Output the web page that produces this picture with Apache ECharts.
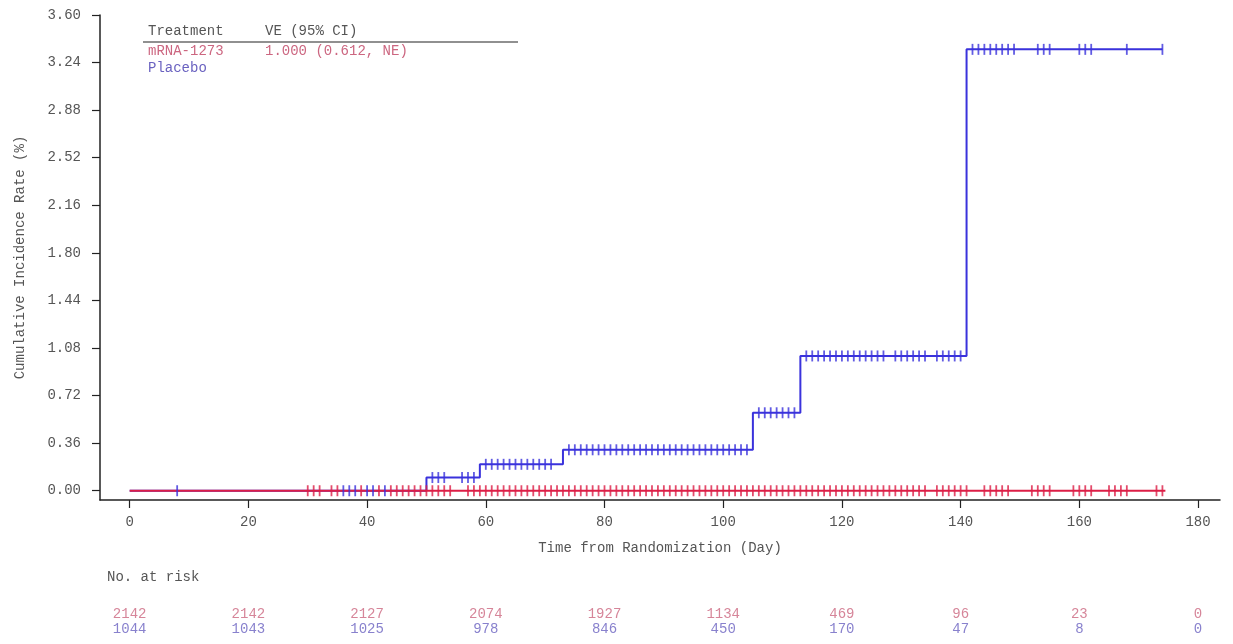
<!DOCTYPE html>
<html>
<head>
<meta charset="utf-8">
<script src="https://cdn.jsdelivr.net/npm/echarts@6/dist/echarts.min.js"></script>
<style>html,body{margin:0;padding:0;background:#fff;}#c{width:1233px;height:644px;}</style>
</head>
<body>
<div id="c"></div>
<script>
// ---- data ----
const yTicks = [0, 0.36, 0.72, 1.08, 1.44, 1.80, 2.16, 2.52, 2.88, 3.24, 3.60];
const xTicks = [0, 20, 40, 60, 80, 100, 120, 140, 160, 180];

const placeboStepDays = [0, 50, 59, 73, 105, 113, 141, 174];
const placeboStepRate = [0, 0.10, 0.20, 0.31, 0.59, 1.02, 3.34, 3.34];
const mrnaStepDays = [0, 174.5];
const mrnaStepRate = [0, 0];

const placeboCensorDays = [8, 36, 37, 38, 40, 41, 43, 51, 52, 53, 56, 57, 58,
  60, 61, 62, 63, 64, 65, 66, 67, 68, 69, 70, 71,
  74, 75, 76, 77, 78, 79, 80, 81, 82, 83, 84, 85, 86, 87, 88, 89, 90, 91, 92, 93, 94, 95, 96, 97, 98, 99, 100, 101, 102, 103, 104,
  106, 107, 108, 109, 110, 111, 112,
  114, 115, 116, 117, 118, 119, 120, 121, 122, 123, 124, 125, 126, 127, 129, 130, 131, 132, 133, 134, 136, 137, 138, 139, 140,
  142, 143, 144, 145, 146, 147, 148, 149, 153, 154, 155, 160, 161, 162, 168, 174];
const mrnaCensorDays = [30, 31, 32, 34, 35, 39, 42,
  44, 45, 46, 47, 48, 49, 50, 51, 52, 53, 54,
  57, 58, 59, 60, 61, 62, 63, 64, 65, 66, 67, 68, 69, 70, 71, 72, 73, 74, 75, 76, 77, 78, 79, 80,
  81, 82, 83, 84, 85, 86, 87, 88, 89, 90, 91, 92, 93, 94, 95, 96, 97, 98, 99, 100,
  101, 102, 103, 104, 105, 106, 107, 108, 109, 110, 111, 112, 113, 114, 115, 116, 117, 118, 119, 120,
  121, 122, 123, 124, 125, 126, 127, 128, 129, 130, 131, 132, 133, 134,
  136, 137, 138, 139, 140, 141, 144, 145, 146, 147, 148, 152, 153, 154, 155,
  159, 160, 161, 162, 165, 166, 167, 168, 173, 174];

const riskDays = [0, 20, 40, 60, 80, 100, 120, 140, 160, 180];
const riskMrna = [2142, 2142, 2127, 2074, 1927, 1134, 469, 96, 23, 0];
const riskPlacebo = [1044, 1043, 1025, 978, 846, 450, 170, 47, 8, 0];

const groups = ['mRNA-1273', 'Placebo'];
const veText = ['1.000 (0.612, NE)', ''];

// ---- styles ----
const FONT = "'Liberation Mono', 'Courier New', monospace";
const FS = 14;
const RED = '#dc1e46', BLUE = '#3a32dc';
const RED_T = '#cc6680', BLUE_T = '#6a62c0';
const TXT = '#555';

function stepValue(days, rates, d) {
  let v = rates[0];
  for (let i = 0; i < days.length; i++) { if (days[i] <= d) v = rates[i]; }
  return v;
}
const zip = (a, b) => a.map((v, i) => [v, b[i]]);

const chart = echarts.init(document.getElementById('c'), null, { renderer: 'canvas' });
const option = {
  animation: false,
  backgroundColor: '#fff',
  textStyle: { fontFamily: FONT },
  grid: [
    { left: 100, right: 13, top: 15, bottom: 144 },
    { left: 100, right: 13, top: 599, height: 51, show: false }
  ],
  xAxis: [{
    gridIndex: 0, type: 'value', min: -5, max: 183.7,
    axisLine: { show: true, onZero: false, lineStyle: { color: '#222', width: 1.5 } },
    axisTick: { show: true, length: 8, customValues: xTicks, lineStyle: { color: '#222', width: 1.2 } },
    axisLabel: { customValues: xTicks, margin: 15, fontSize: FS, color: TXT, fontFamily: FONT },
    splitLine: { show: false },
    name: 'Time from Randomization (Day)', nameLocation: 'middle', nameGap: 41,
    nameTextStyle: { fontSize: FS, color: TXT, fontFamily: FONT }
  }, {
    gridIndex: 1, type: 'value', min: -5, max: 183.7, show: false
  }],
  yAxis: [{
    gridIndex: 0, type: 'value', min: -0.07, max: 3.6,
    axisLine: { show: true, onZero: false, lineStyle: { color: '#222', width: 1.5 } },
    axisTick: { show: true, length: 8, customValues: yTicks, lineStyle: { color: '#222', width: 1.2 } },
    axisLabel: { customValues: yTicks, margin: 19, fontSize: FS, color: TXT, fontFamily: FONT,
      formatter: v => v.toFixed(2) },
    splitLine: { show: false },
    name: 'Cumulative Incidence Rate (%)', nameLocation: 'middle', nameGap: 73,
    nameTextStyle: { fontSize: FS, color: TXT, fontFamily: FONT }
  }, {
    gridIndex: 1, type: 'value', min: 0, max: 3, inverse: true, show: false
  }],
  series: [
    {
      name: groups[1], type: 'line', step: 'end', xAxisIndex: 0, yAxisIndex: 0,
      data: zip(placeboStepDays, placeboStepRate), showSymbol: false, symbol: 'none',
      lineStyle: { color: BLUE, width: 2 }, z: 2
    },
    {
      name: groups[0], type: 'line', step: 'end', xAxisIndex: 0, yAxisIndex: 0,
      data: zip(mrnaStepDays, mrnaStepRate), showSymbol: false, symbol: 'none',
      lineStyle: { color: RED, width: 2 }, z: 3
    },
    {
      name: groups[0] + ' censored', type: 'scatter', xAxisIndex: 0, yAxisIndex: 0,
      data: mrnaCensorDays.map(d => [d, stepValue(mrnaStepDays, mrnaStepRate, d)]),
      symbol: 'rect', symbolSize: [1.8, 11], itemStyle: { color: RED }, z: 4
    },
    {
      name: groups[1] + ' censored', type: 'scatter', xAxisIndex: 0, yAxisIndex: 0,
      data: placeboCensorDays.map(d => [d, stepValue(placeboStepDays, placeboStepRate, d)]),
      symbol: 'rect', symbolSize: [1.8, 11], itemStyle: { color: BLUE }, z: 5
    },
    {
      name: 'risk ' + groups[0], type: 'scatter', xAxisIndex: 1, yAxisIndex: 1,
      data: riskDays.map((d, i) => [d, 1, riskMrna[i]]), symbolSize: 0.001, silent: true,
      label: { show: true, position: 'inside', formatter: p => String(p.value[2]),
        color: RED_T, fontSize: FS, fontFamily: FONT }
    },
    {
      name: 'risk ' + groups[1], type: 'scatter', xAxisIndex: 1, yAxisIndex: 1,
      data: riskDays.map((d, i) => [d, 2, riskPlacebo[i]]), symbolSize: 0.001, silent: true,
      label: { show: true, position: 'inside', formatter: p => String(p.value[2]),
        color: BLUE_T, fontSize: FS, fontFamily: FONT }
    }
  ],
  graphic: [
    { type: 'text', left: 148, top: 24, style: { text: 'Treatment', font: FS + 'px ' + FONT, fill: TXT } },
    { type: 'text', left: 265, top: 24, style: { text: 'VE (95% CI)', font: FS + 'px ' + FONT, fill: TXT } },
    { type: 'line', shape: { x1: 143, y1: 42, x2: 518, y2: 42 }, style: { stroke: '#222', lineWidth: 1.2 } },
    { type: 'text', left: 148, top: 44, style: { text: groups[0], font: FS + 'px ' + FONT, fill: RED_T } },
    { type: 'text', left: 265, top: 44, style: { text: veText[0], font: FS + 'px ' + FONT, fill: RED_T } },
    { type: 'text', left: 148, top: 61, style: { text: groups[1], font: FS + 'px ' + FONT, fill: BLUE_T } },
    { type: 'text', left: 107, top: 570, style: { text: 'No. at risk', font: FS + 'px ' + FONT, fill: TXT } }
  ]
};
chart.setOption(option);
</script>
</body>
</html>
